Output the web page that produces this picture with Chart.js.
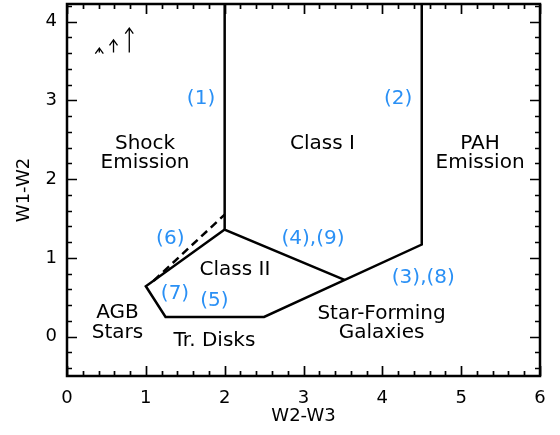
<!DOCTYPE html>
<html>
<head>
<meta charset="utf-8">
<script src="https://cdn.jsdelivr.net/npm/chart.js@4/dist/chart.umd.min.js"></script>
<style>
html,body{margin:0;padding:0;background:#fff;}
#wrap{width:560px;height:435px;}
</style>
</head>
<body>
<div id="wrap"><canvas id="c" width="560" height="435"></canvas></div>
<script>
// ---- data ----
const xTicks = [0, 1, 2, 3, 4, 5, 6];
const yTicks = [0, 1, 2, 3, 4];
const xRange = [0, 6];
const yRange = [-0.5, 4.225];

// Class I / shock boundary: vertical at W2-W3=2, then Class I / II divide
const classIX = [2.0, 2.0, 3.52];
const classIY = [4.225, 1.36, 0.72];
// PAH boundary, star-forming divide, transition disks, AGB edges, back to Class II apex
const outerX = [4.5, 4.5, 2.5, 1.25, 1.0, 2.0];
const outerY = [4.225, 1.17, 0.25, 0.25, 0.64, 1.36];
// dashed alternative Class II edge
const dashedX = [1.1, 2.0];
const dashedY = [0.71, 1.55];

// reddening arrows (x, base y, tip y)
const arrowX = [0.41, 0.59, 0.79];
const arrowBase = [3.61, 3.61, 3.61];
const arrowTip = [3.665, 3.77, 3.92];

// region labels
const labelText = [["Shock", "Emission"], ["Class I"], ["PAH", "Emission"], ["Class II"], ["AGB", "Stars"], ["Tr. Disks"], ["Star-Forming", "Galaxies"]];
const labelX = [0.99, 3.24, 5.24, 2.13, 0.64, 1.87, 3.99];
const labelY = [2.355, 2.47, 2.355, 0.87, 0.20, -0.02, 0.195];
// reference numbers
const refText = ["(1)", "(2)", "(6)", "(4),(9)", "(7)", "(5)", "(3),(8)"];
const refX = [1.70, 4.20, 1.31, 3.12, 1.37, 1.87, 4.52];
const refY = [3.05, 3.05, 1.27, 1.27, 0.57, 0.48, 0.77];

const toPts = (xs, ys) => xs.map((x, i) => ({x: x, y: ys[i]}));
const FONT = "'DejaVu Sans', sans-serif";

const decor = {
  id: 'decor',
  afterDatasetsDraw(chart) {
    const ctx = chart.ctx;
    const xs = chart.scales.x, ys = chart.scales.y;
    const a = chart.chartArea;
    ctx.save();
    // frame
    ctx.strokeStyle = '#000';
    ctx.lineWidth = 2.5;
    ctx.strokeRect(a.left, a.top, a.right - a.left, a.bottom - a.top);
    // ticks (inward, all four sides)
    ctx.lineWidth = 1.7;
    ctx.beginPath();
    for (let v = xRange[0]; v <= xRange[1] + 1e-9; v += 0.2) {
      const major = Math.abs(v - Math.round(v)) < 1e-6;
      const L = major ? 10 : 5;
      const px = Math.round(xs.getPixelForValue(v)) + 0.5;
      ctx.moveTo(px, a.bottom); ctx.lineTo(px, a.bottom - L);
      ctx.moveTo(px, a.top); ctx.lineTo(px, a.top + L);
    }
    for (let v = -0.4; v <= yRange[1] + 1e-9; v += 0.2) {
      const major = Math.abs(v - Math.round(v)) < 1e-6;
      const L = major ? 10 : 5;
      const py = Math.round(ys.getPixelForValue(v)) + 0.5;
      ctx.moveTo(a.left, py); ctx.lineTo(a.left + L, py);
      ctx.moveTo(a.right, py); ctx.lineTo(a.right - L, py);
    }
    ctx.stroke();
    // arrows
    ctx.lineWidth = 1.3;
    ctx.strokeStyle = '#000';
    arrowX.forEach((x, i) => {
      const px = xs.getPixelForValue(x);
      const y0 = ys.getPixelForValue(arrowBase[i]);
      const y1 = ys.getPixelForValue(arrowTip[i]);
      ctx.beginPath();
      ctx.moveTo(px, y0); ctx.lineTo(px, y1);
      ctx.moveTo(px - 4, y1 + 5.5); ctx.lineTo(px, y1); ctx.lineTo(px + 4, y1 + 5.5);
      ctx.stroke();
    });
    // labels
    ctx.textAlign = 'center';
    ctx.textBaseline = 'alphabetic';
    const fs = 20, lh = 19.5, cap = 0.365 * fs;
    ctx.font = fs + 'px ' + FONT;
    ctx.fillStyle = '#000';
    labelText.forEach((lines, i) => {
      const cx = xs.getPixelForValue(labelX[i]);
      const cy = ys.getPixelForValue(labelY[i]);
      const top = cy - (lines.length - 1) * lh / 2;
      lines.forEach((t, j) => ctx.fillText(t, cx, top + j * lh + cap));
    });
    ctx.fillStyle = '#2a90f5';
    refText.forEach((t, i) => {
      ctx.fillText(t, xs.getPixelForValue(refX[i]), ys.getPixelForValue(refY[i]) + cap);
    });
    ctx.restore();
  }
};

const lineDs = (data, dash) => ({
  data: data, showLine: true, pointRadius: 0, borderColor: '#000',
  borderWidth: 2.5, borderDash: dash || [], fill: false, tension: 0
});

new Chart(document.getElementById('c'), {
  type: 'scatter',
  data: {
    datasets: [
      lineDs(toPts(classIX, classIY)),
      lineDs(toPts(outerX, outerY)),
      lineDs(toPts(dashedX, dashedY), [8, 5])
    ]
  },
  options: {
    responsive: false,
    animation: false,
    devicePixelRatio: 1,
    layout: {padding: {top: 4, right: 20, left: 0, bottom: 0}},
    plugins: {legend: {display: false}, tooltip: {enabled: false}},
    scales: {
      x: {
        type: 'linear', min: xRange[0], max: xRange[1],
        afterBuildTicks: s => { s.ticks = xTicks.map(v => ({value: v})); },
        afterFit: s => { s.height = 59; s.paddingLeft = 0; s.paddingRight = 0; },
        grid: {display: false, drawTicks: false},
        border: {display: false},
        ticks: {color: '#000', padding: 12, font: {family: FONT, size: 18}, maxRotation: 0},
        title: {display: true, text: 'W2-W3', color: '#000', font: {family: FONT, size: 18}, padding: {top: 0, bottom: 8}}
      },
      y: {
        type: 'linear', min: yRange[0], max: yRange[1],
        afterBuildTicks: s => { s.ticks = yTicks.map(v => ({value: v})); },
        afterFit: s => { s.width = 67; s.paddingTop = 0; s.paddingBottom = 0; },
        grid: {display: false, drawTicks: false},
        border: {display: false},
        ticks: {color: '#000', padding: 10, font: {family: FONT, size: 18}},
        title: {display: true, text: 'W1-W2', color: '#000', font: {family: FONT, size: 18}, padding: {top: 14, bottom: 0}}
      }
    }
  },
  plugins: [decor]
});
</script>
</body>
</html>
